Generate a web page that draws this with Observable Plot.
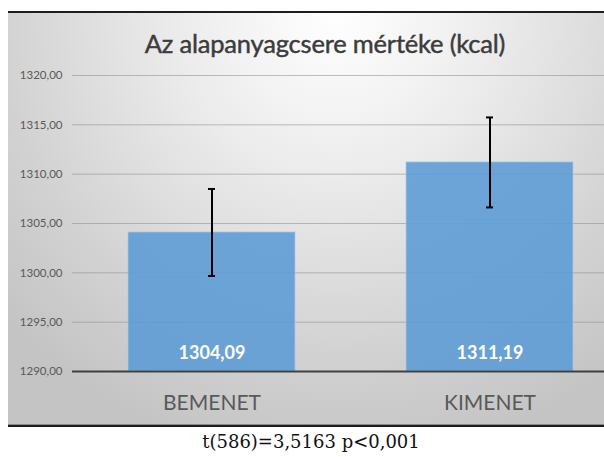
<!DOCTYPE html>
<html><head><meta charset="utf-8">
<script src="https://cdn.jsdelivr.net/npm/d3@7"></script>
<script src="https://cdn.jsdelivr.net/npm/@observablehq/plot@0.6"></script>
<style>
body{margin:0;background:#fff;width:604px;height:457px;overflow:hidden;position:relative;font-family:Lato,sans-serif;}
#box{position:absolute;left:8px;top:11px;width:596px;height:412px;border-top:2px solid #1e1e1e;border-bottom:2px solid #1e1e1e;box-shadow:inset 0 -1px 0 #8a8a8a;
 background:radial-gradient(ellipse 75% 110% at 55% 0%, #ffffff 0%, #ececec 35%, #d2d2d2 75%, #c4c4c4 100%);overflow:hidden;}
#title{position:absolute;left:0;width:634px;top:17px;text-align:center;font:25.5px Lato,sans-serif;line-height:26px;color:#3c3c3c;letter-spacing:-0.2px;white-space:nowrap;-webkit-text-stroke:0.45px #3c3c3c;}
#plot{position:absolute;left:0;top:0;}
#cap{position:absolute;left:0;width:622px;top:431px;text-align:center;font:18px "DejaVu Serif",serif;line-height:22px;color:#111;white-space:nowrap;}
</style></head>
<body>
<div id="box"><div id="title">Az alapanyagcsere mértéke (kcal)</div><div id="plot"></div></div>
<div id="cap">t(586)=3,5163 p&lt;0,001</div>
<script>
const categories = ["BEMENET", "KIMENET"];
const means = [1304.09, 1311.19];
const errors = [4.41, 4.56];
const yTicks = [1290, 1295, 1300, 1305, 1310, 1315, 1320];
const labels = ["1304,09", "1311,19"];

const data = categories.map((c, i) => ({cat: c, v: means[i], lo: means[i] - errors[i], hi: means[i] + errors[i], label: labels[i]}));
const fmt = d => d.toFixed(2).replace(".", ",");

const chart = Plot.plot({
  width: 596,
  height: 412,
  marginTop: 62,
  marginBottom: 54,
  marginLeft: 64,
  marginRight: 0,
  style: {background: "transparent", fontFamily: "Lato, sans-serif", overflow: "visible"},
  x: {domain: categories, range: [64, 620], paddingInner: 0.4, paddingOuter: 0.2, label: null},
  y: {domain: [1290, 1320], label: null},
  marks: [
    Plot.ruleY(yTicks.slice(1), {stroke: "#8c8c8c", strokeOpacity: 0.55, strokeWidth: 1}),
    Plot.barY(data, {x: "cat", y1: 1290, y2: "v", fill: "#5b9bd5", fillOpacity: 0.88, stroke: "#a9cbea", strokeWidth: 1, strokeOpacity: 0.7}),
    Plot.ruleY([1290], {stroke: "#404040", strokeWidth: 2}),
    Plot.ruleX(data, {x: "cat", y1: "lo", y2: "hi", stroke: "#000", strokeWidth: 2}),
    Plot.tickY(data, {x: "cat", y: "lo", stroke: "#000", strokeWidth: 2, insetLeft: 80, insetRight: 80}),
    Plot.tickY(data, {x: "cat", y: "hi", stroke: "#000", strokeWidth: 2, insetLeft: 80, insetRight: 80}),
    Plot.text(data, {x: "cat", text: "label", frameAnchor: "bottom", lineAnchor: "middle", dy: -18, fill: "#fff", fontSize: 18, fontWeight: "bold"}),
    Plot.axisY({ticks: yTicks, tickSize: 0, tickPadding: 10, tickFormat: fmt, fontSize: 11.5, fill: "#595959"}),
    Plot.axisX({tickSize: 0, tickPadding: 24, fontSize: 21, fill: "#595959"})
  ]
});
document.getElementById("plot").appendChild(chart);
</script>
</body></html>
